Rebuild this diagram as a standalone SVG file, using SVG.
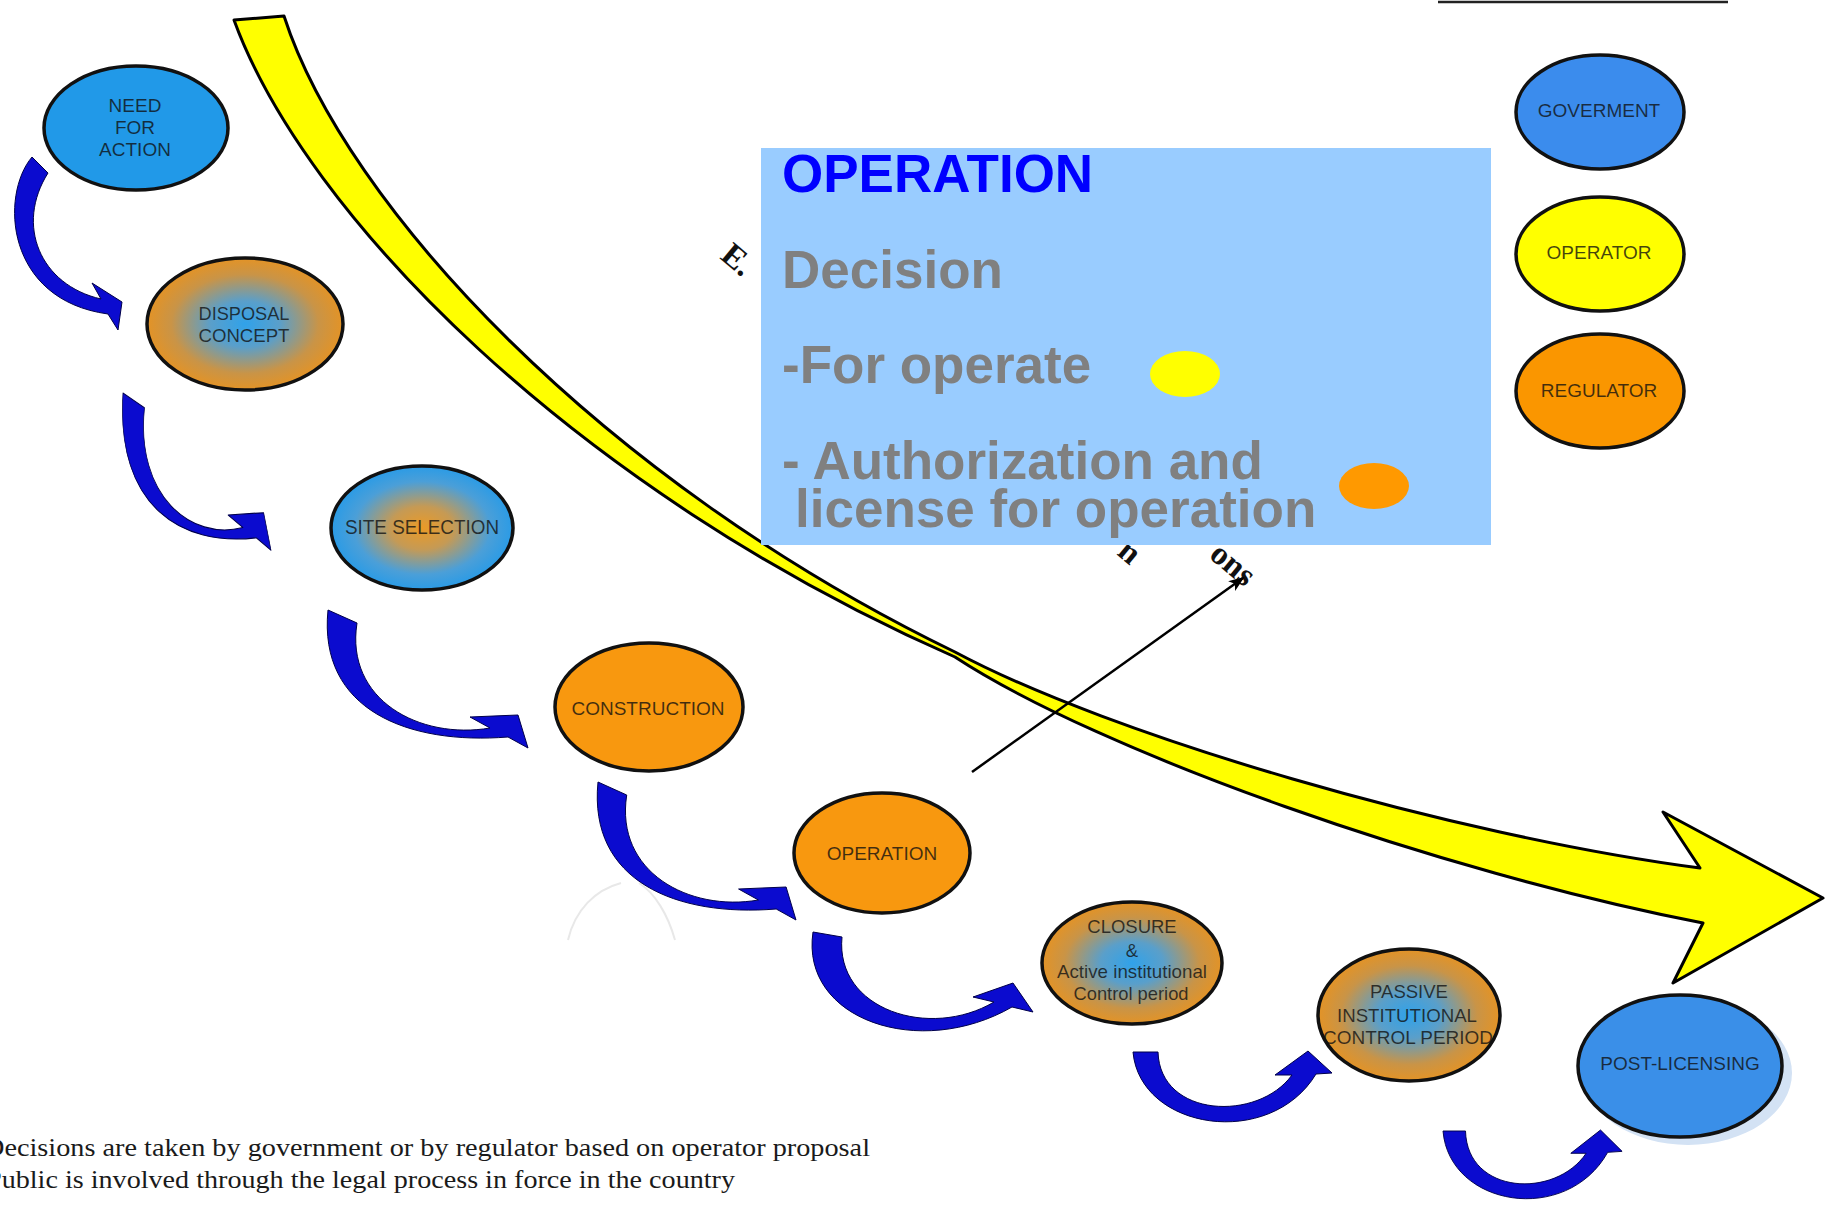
<svg xmlns="http://www.w3.org/2000/svg" xmlns:xlink="http://www.w3.org/1999/xlink" width="1825" height="1211" viewBox="0 0 1825 1211">
  <defs>
    <style>
      .node { stroke: #111; stroke-width: 3.5; }
      .lbl { font-family: "Liberation Sans", Arial, sans-serif; font-size: 19px; fill: #101010; fill-opacity: 0.78; text-anchor: middle; }
      .panel-title { font-family: "Liberation Sans", Arial, sans-serif; font-weight: bold; font-size: 53px; fill: #0000ff; }
      .panel-text { font-family: "Liberation Sans", Arial, sans-serif; font-weight: bold; font-size: 53px; fill: #808080; }
      .curl { fill: #0b0bcf; stroke: #00004a; stroke-width: 1; stroke-linejoin: round; }
      .serif-frag { font-family: "Liberation Serif", "Times New Roman", serif; font-size: 33px; font-weight: bold; fill: #111; }
      .note { font-family: "Liberation Serif", "Times New Roman", serif; font-size: 26px; fill: #1a1a1a; }
    </style>
    <radialGradient id="blueCore" cx="50%" cy="50%" r="50%">
      <stop offset="0" stop-color="#30a2ea"/>
      <stop offset="0.35" stop-color="#5a9fca"/>
      <stop offset="0.75" stop-color="#c99447"/>
      <stop offset="1" stop-color="#e39326"/>
    </radialGradient>
    <radialGradient id="orangeCore" cx="50%" cy="50%" r="50%">
      <stop offset="0" stop-color="#eb9a26"/>
      <stop offset="0.35" stop-color="#c59a55"/>
      <stop offset="0.75" stop-color="#4b9fd8"/>
      <stop offset="1" stop-color="#2a9be6"/>
    </radialGradient>
    <!-- J-shaped curl arrow, origin at the outer corner of its tail -->
    <path id="curlJ" d="M0,0 C-10,100 80,135 180,127 L200,138 L190,105 L142,107 L162,118 C92,130 17,90 29,13 Z"/>
    <!-- U-shaped curl arrow -->
    <path id="curlU" d="M1133,1052 C1140,1130 1270,1150 1316,1074 L1332,1073 L1308,1051 L1275,1075 L1292,1075 C1258,1122 1160,1118 1158,1052 Z"/>
    <marker id="lineHead" viewBox="0 0 16 12" refX="14" refY="6" markerWidth="16" markerHeight="12" markerUnits="userSpaceOnUse" orient="auto">
      <path d="M0,0 L16,6 L0,12 L4,6 Z" fill="#000"/>
    </marker>
  </defs>

  <rect width="1825" height="1211" fill="#ffffff"/>

  <!-- underline of the clipped heading, top right -->
  <line x1="1438" y1="2" x2="1728" y2="2" stroke="#222" stroke-width="2.5"/>

  <!-- faint sketch arcs -->
  <path d="M568,940 C575,910 595,890 621,883 M639,883 C655,893 668,915 675,940" fill="none" stroke="#e8e8e8" stroke-width="2"/>

  <!-- big twisted yellow process arrow -->
  <path id="process-arrow" d="M234,20 C305,215 575,490 955,657 C1100,752 1440,872 1703,923 L1673,983 L1823,898 L1663,812 L1700,868 C1450,835 1110,735 955,652 C600,480 345,205 284,16 Z" fill="#ffff00" stroke="#000" stroke-width="3" stroke-linejoin="round"/>

  <!-- curved caption text, mostly hidden under the panel -->
  <text class="serif-frag" transform="translate(719,258) rotate(40)">E.</text>
  <text class="serif-frag" transform="translate(1116,554) rotate(40)">n</text>
  <text class="serif-frag" transform="translate(1208,557) rotate(40)">ons</text>

  <!-- information panel -->
  <g id="panel">
    <rect x="761" y="148" width="730" height="397" fill="#99ccff"/>
    <text class="panel-title" x="782" y="192">OPERATION</text>
    <text class="panel-text" x="782" y="288">Decision</text>
    <text class="panel-text" x="782" y="383">-For operate</text>
    <ellipse cx="1185" cy="374" rx="35" ry="23" fill="#ffff00"/>
    <text class="panel-text" x="782" y="479">- Authorization and</text>
    <text class="panel-text" x="795" y="527">license for operation</text>
    <ellipse cx="1374" cy="486" rx="35" ry="23" fill="#ff9900"/>
  </g>

  <!-- connectors between the stages -->
  <g id="connectors">
    <path class="curl" d="M32,157 C0,195 5,300 108,314 L118,330 L122,302 L92,283 L101,299 C40,285 15,225 48,173 Z"/>
    <use xlink:href="#curlJ" href="#curlJ" class="curl" transform="translate(123,393) scale(0.74,1.14)"/>
    <use xlink:href="#curlJ" href="#curlJ" class="curl" transform="translate(328,610)"/>
    <use xlink:href="#curlJ" href="#curlJ" class="curl" transform="translate(598,782) scale(0.99,1)"/>
    <path class="curl" d="M813,932 C800,1020 920,1060 1012,1007 L1033,1012 L1013,983 L973,997 L994,1002 C930,1040 835,1010 842,937 Z"/>
    <use xlink:href="#curlU" href="#curlU" class="curl"/>
    <use xlink:href="#curlU" href="#curlU" class="curl" transform="translate(1443,1131) scale(0.9,0.97) translate(-1133,-1052)"/>
    <line x1="972" y1="772" x2="1243" y2="578" stroke="#000" stroke-width="2.5" marker-end="url(#lineHead)"/>
  </g>

  <!-- stages -->
  <g id="need-for-action">
    <ellipse class="node" cx="136" cy="128" rx="92" ry="62" fill="#2199e8"/>
    <text class="lbl" x="135" y="112">NEED</text>
    <text class="lbl" x="135" y="134">FOR</text>
    <text class="lbl" x="135" y="156">ACTION</text>
  </g>
  <g id="disposal-concept">
    <ellipse class="node" cx="245" cy="324" rx="98" ry="66" fill="url(#blueCore)"/>
    <text class="lbl" x="244" y="320" textLength="91" lengthAdjust="spacingAndGlyphs">DISPOSAL</text>
    <text class="lbl" x="244" y="342" textLength="91" lengthAdjust="spacingAndGlyphs">CONCEPT</text>
  </g>
  <g id="site-selection">
    <ellipse class="node" cx="422" cy="528" rx="91" ry="62" fill="url(#orangeCore)"/>
    <text class="lbl" x="422" y="534" style="font-size:21px" textLength="154" lengthAdjust="spacingAndGlyphs">SITE SELECTION</text>
  </g>
  <g id="construction">
    <ellipse class="node" cx="649" cy="707" rx="94" ry="64" fill="#f8980f"/>
    <text class="lbl" x="648" y="715">CONSTRUCTION</text>
  </g>
  <g id="operation">
    <ellipse class="node" cx="882" cy="853" rx="88" ry="60" fill="#f8980f"/>
    <text class="lbl" x="882" y="860">OPERATION</text>
  </g>
  <g id="closure">
    <ellipse class="node" cx="1132" cy="963" rx="90" ry="61" fill="url(#blueCore)"/>
    <text class="lbl" x="1132" y="933" style="font-size:18.5px">CLOSURE</text>
    <text class="lbl" x="1132" y="957" style="font-size:18.5px">&amp;</text>
    <text class="lbl" x="1132" y="978" style="font-size:18.5px" textLength="150" lengthAdjust="spacingAndGlyphs">Active institutional</text>
    <text class="lbl" x="1131" y="1000" style="font-size:18.5px" textLength="115" lengthAdjust="spacingAndGlyphs">Control period</text>
  </g>
  <g id="passive-institutional-control">
    <ellipse class="node" cx="1409" cy="1015" rx="91" ry="66" fill="url(#blueCore)"/>
    <text class="lbl" x="1409" y="998" style="font-size:18.5px">PASSIVE</text>
    <text class="lbl" x="1407" y="1022" style="font-size:18.5px" textLength="140" lengthAdjust="spacingAndGlyphs">INSTITUTIONAL</text>
    <text class="lbl" x="1408" y="1044" style="font-size:18.5px" textLength="170" lengthAdjust="spacingAndGlyphs">CONTROL PERIOD</text>
  </g>
  <g id="post-licensing">
    <ellipse cx="1688" cy="1073" rx="104" ry="72" fill="#d3e2f4"/>
    <ellipse class="node" cx="1680" cy="1066" rx="102" ry="71" fill="#3a8fe8"/>
    <text class="lbl" x="1680" y="1070">POST-LICENSING</text>
  </g>

  <!-- legend -->
  <g id="legend-government">
    <ellipse class="node" cx="1600" cy="112" rx="84" ry="57" fill="#3b8ced"/>
    <text class="lbl" x="1599" y="117">GOVERMENT</text>
  </g>
  <g id="legend-operator">
    <ellipse class="node" cx="1600" cy="254" rx="84" ry="57" fill="#ffff00"/>
    <text class="lbl" x="1599" y="259">OPERATOR</text>
  </g>
  <g id="legend-regulator">
    <ellipse class="node" cx="1600" cy="391" rx="84" ry="57" fill="#fa9600"/>
    <text class="lbl" x="1599" y="397">REGULATOR</text>
  </g>

  <!-- footnotes -->
  <text class="note" x="-16" y="1156" textLength="886" lengthAdjust="spacingAndGlyphs">Decisions are taken by government or by regulator based on operator proposal</text>
  <text class="note" x="-14" y="1188" textLength="749" lengthAdjust="spacingAndGlyphs">Public is involved through the legal process in force in the country</text>
</svg>
